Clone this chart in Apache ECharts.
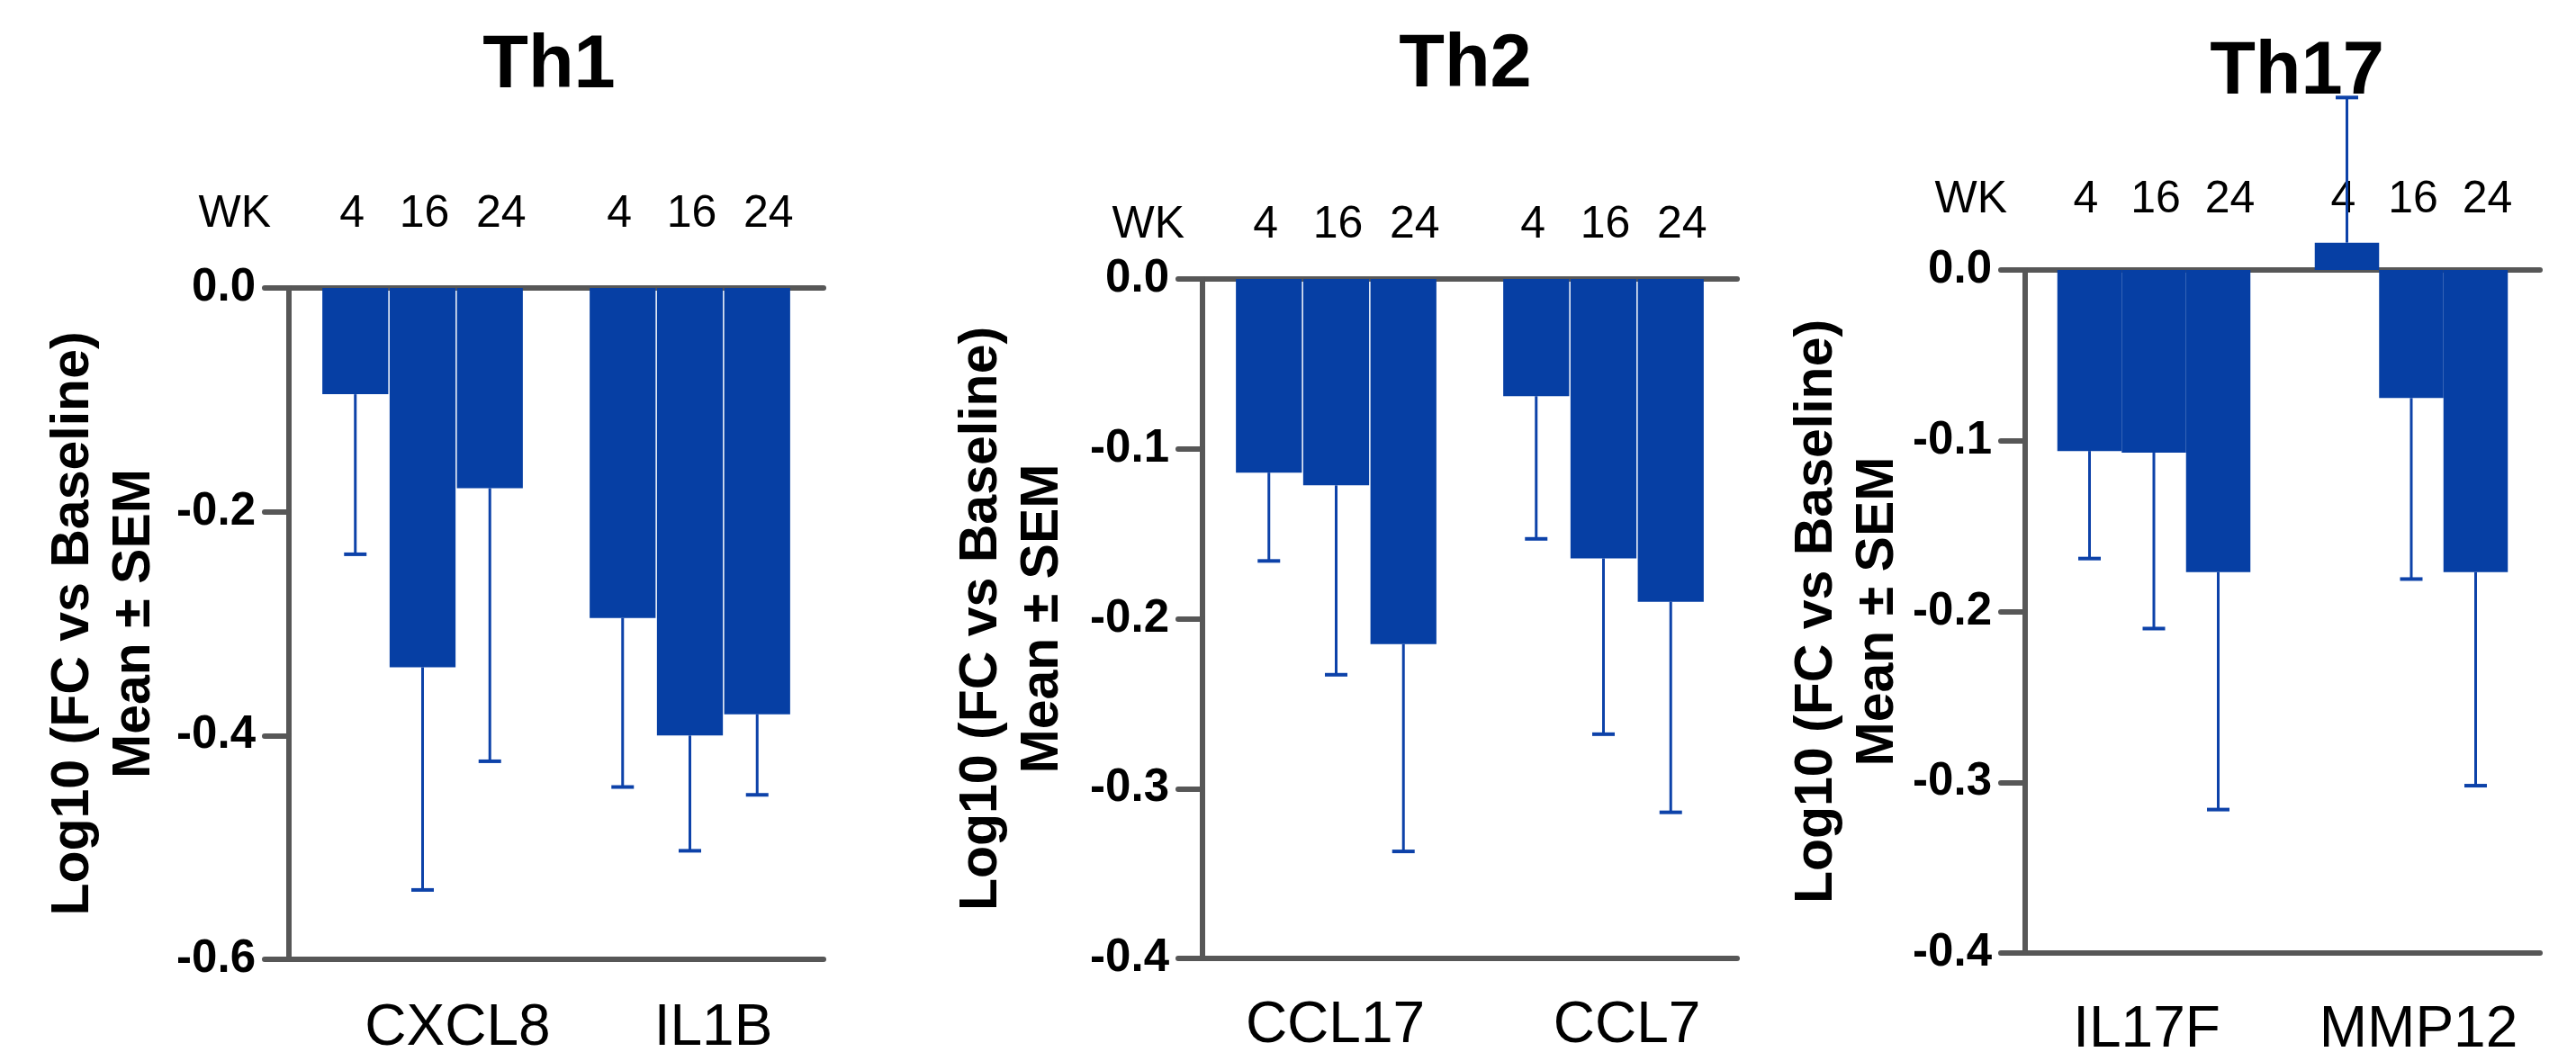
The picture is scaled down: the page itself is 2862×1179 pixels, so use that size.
<!DOCTYPE html>
<html>
<head>
<meta charset="utf-8">
<script src="https://cdn.jsdelivr.net/npm/echarts@6/dist/echarts.min.js"></script>
<style>
html,body{margin:0;padding:0;background:#fff;}
#chart{width:2862px;height:1179px;}
</style>
</head>
<body>
<div id="chart"></div>
<script>
// ---------------- DATA ----------------
const weekLabels = ['4', '16', '24'];
const weekAxisName = 'WK';
const panelTitles = ['Th1', 'Th2', 'Th17'];
const yAxisName = 'Log10 (FC vs Baseline)\nMean \u00B1 SEM';

const th1Genes = ['CXCL8', 'IL1B'];
const th1Wk4 = [-0.095, -0.295];
const th1Wk16 = [-0.339, -0.400];
const th1Wk24 = [-0.179, -0.381];
const th1Wk4Sem = [0.143, 0.151];
const th1Wk16Sem = [0.199, 0.103];
const th1Wk24Sem = [0.244, 0.072];
const th1YTicks = { min: -0.6, max: 0, step: 0.2 };

const th2Genes = ['CCL17', 'CCL7'];
const th2Wk4 = [-0.114, -0.069];
const th2Wk16 = [-0.1215, -0.1645];
const th2Wk24 = [-0.215, -0.190];
const th2Wk4Sem = [0.052, 0.084];
const th2Wk16Sem = [0.1115, 0.1035];
const th2Wk24Sem = [0.122, 0.124];
const th2YTicks = { min: -0.4, max: 0, step: 0.1 };

const th17Genes = ['IL17F', 'MMP12'];
const th17Wk4 = [-0.106, 0.016];
const th17Wk16 = [-0.107, -0.075];
const th17Wk24 = [-0.177, -0.177];
const th17Wk4Sem = [0.063, 0.085];
const th17Wk16Sem = [0.103, 0.106];
const th17Wk24Sem = [0.139, 0.125];
const th17YTicks = { min: -0.4, max: 0, step: 0.1 };

// ---------------- LAYOUT / STYLE ----------------
const FONT = '"Liberation Sans", Arial, Helvetica, sans-serif';
const BAR_COLOR = '#063FA4';
const ERR_COLOR = '#0D42A9';
const AXIS_COLOR = '#575757';
const CAT_GAP = 0.25;
const WK_FONT = 50;

const layouts = [
  { left: 321, width: 594, top: 320, height: 746, titleX: 605, titleTop: 28, wkMargin: 57, catMargin: 45, catDx: [39, 26], nameGap: 137, barGap: 0.02 },
  { left: 1336, width: 594, top: 310, height: 755, titleX: 1623, titleTop: 27, wkMargin: 35, catMargin: 43, catDx: [-1, 26], nameGap: 143, barGap: 0.02 },
  { left: 2250, width: 572, top: 300, height: 759, titleX: 2547, titleTop: 35, wkMargin: 53, catMargin: 54, catDx: [-8, 8], nameGap: 119, barGap: 0.0 }
];
const wkDx = [-4, 2, 13];

const panels = [
  { genes: th1Genes, means: [th1Wk4, th1Wk16, th1Wk24], sems: [th1Wk4Sem, th1Wk16Sem, th1Wk24Sem], ticks: th1YTicks },
  { genes: th2Genes, means: [th2Wk4, th2Wk16, th2Wk24], sems: [th2Wk4Sem, th2Wk16Sem, th2Wk24Sem], ticks: th2YTicks },
  { genes: th17Genes, means: [th17Wk4, th17Wk16, th17Wk24], sems: [th17Wk4Sem, th17Wk16Sem, th17Wk24Sem], ticks: th17YTicks }
];

function shiftStyle(dx) {
  if (!dx) return {};
  return dx > 0 ? { padding: [0, 0, 0, 2 * dx] } : { padding: [0, -2 * dx, 0, 0] };
}

const option = {
  backgroundColor: '#ffffff',
  animation: false,
  title: [], grid: [], xAxis: [], yAxis: [], series: [], graphic: []
};

panels.forEach((p, pi) => {
  const L = layouts[pi];
  option.title.push({
    text: panelTitles[pi],
    left: L.titleX, top: L.titleTop, textAlign: 'center',
    textStyle: { fontFamily: FONT, fontSize: 83, fontWeight: 'bold', color: '#000' }
  });
  option.grid.push({ left: L.left, top: L.top, width: L.width, height: L.height, containLabel: false });

  // "WK" row caption, left of the y axis, level with the week labels
  option.graphic.push({
    type: 'text',
    x: L.left - 20, y: L.top - L.wkMargin - WK_FONT / 2,
    style: { text: weekAxisName, fontFamily: FONT, fontSize: WK_FONT, fill: '#000', align: 'right', verticalAlign: 'middle' }
  });

  const axisLineStyle = { color: AXIS_COLOR, width: 6, cap: 'round' };
  // bottom category axis (genes)
  option.xAxis.push({
    type: 'category', gridIndex: pi, position: 'bottom',
    data: p.genes.map((g, i) => ({ value: g, textStyle: shiftStyle(L.catDx[i]) })),
    axisLine: { show: true, onZero: false, lineStyle: axisLineStyle },
    axisTick: { show: false },
    axisLabel: { interval: 0, margin: L.catMargin, fontFamily: FONT, fontSize: 64, color: '#000' },
    splitLine: { show: false }
  });
  // top axis with week labels (slots at bar centres)
  const slots = [''];
  weekLabels.forEach((w, i) => slots.push({ value: w, textStyle: shiftStyle(wkDx[i]) }));
  slots.push('');
  weekLabels.forEach((w, i) => slots.push({ value: w, textStyle: shiftStyle(wkDx[i]) }));
  slots.push('');
  option.xAxis.push({
    type: 'category', gridIndex: pi, position: 'top', boundaryGap: false,
    data: slots,
    axisLine: { show: true, onZero: false, lineStyle: axisLineStyle },
    axisTick: { show: false },
    axisLabel: { interval: 0, margin: L.wkMargin, fontFamily: FONT, fontSize: WK_FONT, color: '#000' },
    splitLine: { show: false }
  });
  option.yAxis.push({
    type: 'value', gridIndex: pi,
    min: p.ticks.min, max: p.ticks.max, interval: p.ticks.step,
    name: yAxisName, nameLocation: 'middle', nameGap: L.nameGap,
    nameTextStyle: { fontFamily: FONT, fontSize: 59, fontWeight: 'bold', color: '#000', lineHeight: 68, align: 'center' },
    axisLine: { show: true, onZero: false, lineStyle: axisLineStyle },
    axisTick: { show: true, inside: false, length: 27, lineStyle: axisLineStyle },
    axisLabel: { margin: 37, fontFamily: FONT, fontSize: 51, fontWeight: 'bold', color: '#000',
      formatter: v => Number(v).toFixed(1) },
    splitLine: { show: false }
  });

  const xIdx = pi * 2;
  const nSer = weekLabels.length;
  p.means.forEach((m, k) => {
    option.series.push({
      type: 'bar', name: 'WK ' + weekLabels[k],
      xAxisIndex: xIdx, yAxisIndex: pi,
      data: m, clip: false,
      barGap: (L.barGap * 100) + '%', barCategoryGap: (CAT_GAP * 100) + '%',
      itemStyle: { color: BAR_COLOR },
      z: 2
    });
  });
  p.means.forEach((m, k) => {
    const sem = p.sems[k];
    const gap = L.barGap;
    option.series.push({
      type: 'custom', name: 'SEM WK ' + weekLabels[k],
      xAxisIndex: xIdx, yAxisIndex: pi, clip: false, z: 10,
      encode: { x: 0, y: [1, 2] },
      data: m.map((v, i) => [i, v, v + (v >= 0 ? 1 : -1) * sem[i]]),
      renderItem: function (params, api) {
        const ci = api.value(0);
        const base = api.coord([ci, api.value(1)]);
        const tip = api.coord([ci, api.value(2)]);
        const band = api.size([1, 0])[0];
        const groupW = band * (1 - CAT_GAP);
        const barW = groupW / (nSer + (nSer - 1) * gap);
        const x = base[0] - groupW / 2 + k * barW * (1 + gap) + barW / 2;
        const capHalf = 12.5;
        return {
          type: 'group',
          children: [
            { type: 'line', shape: { x1: x, y1: base[1], x2: x, y2: tip[1] },
              style: { stroke: ERR_COLOR, lineWidth: 3 } },
            { type: 'line', shape: { x1: x - capHalf, y1: tip[1], x2: x + capHalf, y2: tip[1] },
              style: { stroke: ERR_COLOR, lineWidth: 4 } }
          ]
        };
      }
    });
  });
});

const chart = echarts.init(document.getElementById('chart'), null, { renderer: 'canvas' });
chart.setOption(option);
</script>
</body>
</html>
